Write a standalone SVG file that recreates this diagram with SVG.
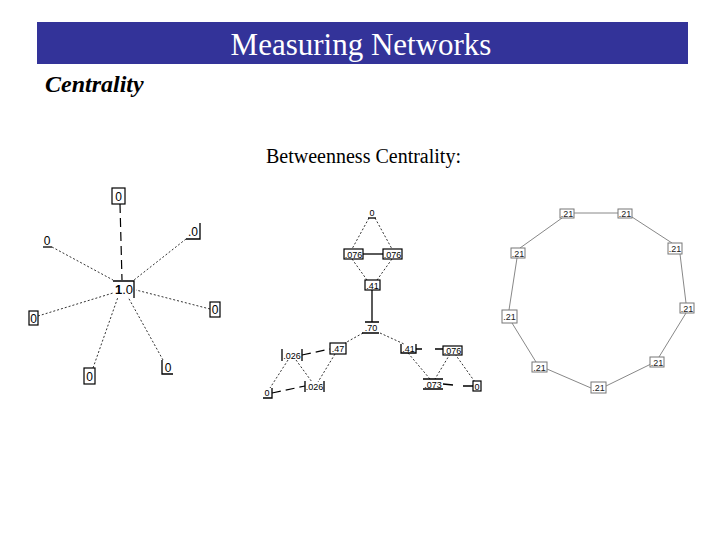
<svg xmlns="http://www.w3.org/2000/svg" width="720" height="540" viewBox="0 0 720 540">
<style>
.t{font-family:"Liberation Sans",Arial,sans-serif;fill:#000}
.s{font-size:12px}
.m{font-size:9px}
.r{font-size:9px;fill:#222}
.box{fill:#fff;stroke:#000;stroke-width:1.2}
.rbox{fill:#fff;stroke:#777;stroke-width:1}
.d{stroke:#333;stroke-width:1;fill:none;stroke-dasharray:2 2}
.dl{stroke:#000;stroke-width:1.2;fill:none;stroke-dasharray:9 5}
.sl{stroke:#000;stroke-width:1.3;fill:none}
.g{stroke:#888;stroke-width:1;fill:none}
</style>
<rect x="37" y="22" width="651" height="42" fill="#333399"/>
<text x="361" y="55" text-anchor="middle" font-family="Liberation Serif,Times New Roman,serif" font-size="31" fill="#fff">Measuring Networks</text>
<text x="45" y="92" font-family="Liberation Serif,Times New Roman,serif" font-size="24" font-style="italic" font-weight="bold">Centrality</text>
<text x="266" y="163" font-family="Liberation Serif,Times New Roman,serif" font-size="20">Betweenness Centrality:</text>

<g id="connectors">
  <path class="dl" d="M120 204 L122 280"/>
  <path class="d" d="M52 247 L113 280"/>
  <path class="d" d="M186 239 L134 280"/>
  <path class="d" d="M210 309 L136 290"/>
  <path class="d" d="M38 316 L113 293"/>
  <path class="d" d="M93 368 L118 297"/>
  <path class="d" d="M163 360 L128 297"/>
  <path class="d" d="M369 218 L352 249"/>
  <path class="d" d="M375 218 L392 249"/>
  <path class="sl" d="M363 254 L383 254"/>
  <path class="d" d="M352 259 L367 280"/>
  <path class="d" d="M392 259 L377 280"/>
  <path class="sl" d="M372 290 L372 322"/>
  <path class="d" d="M363 333 L345 343"/>
  <path class="d" d="M380 333 L404 344"/>
  <path class="sl" d="M416 349 L422 349 M435 349 L443 349"/>
  <path class="d" d="M408 353 L430 379"/>
  <path class="d" d="M450 354 L435 379"/>
  <path class="d" d="M455 354 L475 382"/>
  <path class="sl" d="M443 384 L453 385 M463 386 L473 386"/>
  <path class="dl" d="M302 355 L330 349"/>
  <path class="d" d="M288 360 L270 388"/>
  <path class="d" d="M296 360 L312 382"/>
  <path class="d" d="M335 354 L318 382"/>
  <path class="dl" d="M272 393 L305 386"/>
  <path class="g" d="M574 213 L618 213 M632 217 L672 243 M680 254 L686 303 M686 313 L659 357 M651 364 L606 386 M591 388 L547 369 M536 362 L512 323 M509 310 L517 258 M520 248 L562 218"/>
</g>

<g id="star-center"><path class="sl" d="M113 281 L134 281 L134 298"/><text class="t" font-size="13" x="115" y="294"><tspan font-weight="bold">1</tspan>.0</text></g>
<g id="star-top"><rect class="box" x="112" y="188" width="13" height="16"/><text class="t s" x="118.5" y="200.5" text-anchor="middle">0</text></g>
<g id="star-ul"><path class="sl" d="M43 247 L52 247"/><text class="t s" x="47" y="245" text-anchor="middle">0</text></g>
<g id="star-ur"><path class="sl" d="M186 239 L200 239 L200 223"/><text class="t s" x="193" y="236" text-anchor="middle">.0</text></g>
<g id="star-r"><rect class="box" x="210" y="302" width="10" height="15"/><text class="t s" x="215" y="314" text-anchor="middle">0</text></g>
<g id="star-l"><rect class="box" x="29" y="311" width="9" height="14"/><text class="t s" x="33.5" y="322.5" text-anchor="middle">0</text></g>
<g id="star-bl"><rect class="box" x="84" y="368" width="11" height="16"/><text class="t s" x="89.5" y="381" text-anchor="middle">0</text></g>
<g id="star-br"><path class="sl" d="M162 360 L162 374 L173 374"/><text class="t s" x="168" y="372" text-anchor="middle">0</text></g>

<g id="m-top"><path class="sl" d="M368 218 L376 218"/><text class="t m" x="372" y="216" text-anchor="middle">0</text></g>
<g id="m-l1"><rect class="box" x="344" y="249" width="19" height="10"/><text class="t m" x="353.5" y="257.5" text-anchor="middle">.076</text></g>
<g id="m-r1"><rect class="box" x="383" y="249" width="19" height="10"/><text class="t m" x="392.5" y="257.5" text-anchor="middle">.076</text></g>
<g id="m-41"><rect class="box" x="365" y="280" width="15" height="10"/><text class="t m" x="372.5" y="288.5" text-anchor="middle">.41</text></g>
<g id="m-70"><path class="sl" d="M365 322 L379 322 M362 333 L379 333"/><text class="t m" x="371" y="331" text-anchor="middle">.70</text></g>
<g id="m-47"><rect class="box" x="330" y="343" width="16" height="11"/><text class="t m" x="338" y="352" text-anchor="middle">.47</text></g>
<g id="m-41b"><path class="sl" d="M401 344 L401 353 L416 353 L416 344"/><text class="t m" x="408.5" y="351.5" text-anchor="middle">.41</text></g>
<g id="m-076b"><rect class="box" x="443" y="346" width="19" height="9"/><text class="t m" x="452.5" y="353.5" text-anchor="middle">.076</text></g>
<g id="m-073"><path class="sl" d="M423 379 L443 379 M423 389 L443 389"/><text class="t m" x="433" y="387.5" text-anchor="middle">.073</text></g>
<g id="m-0r"><rect class="box" x="473" y="381" width="8" height="10"/><text class="t m" x="477" y="389.5" text-anchor="middle">0</text></g>
<g id="m-026a"><path class="sl" d="M282 349 L282 361 M302 349 L302 361"/><text class="t m" x="292" y="358.5" text-anchor="middle">.026</text></g>
<g id="m-026b"><path class="sl" d="M305 381 L305 392 M324 381 L324 392"/><text class="t m" x="314.5" y="390" text-anchor="middle">.026</text></g>
<g id="m-0l"><path class="sl" d="M263 398 L272 398 L272 388"/><text class="t m" x="267" y="396" text-anchor="middle">0</text></g>

<g id="r1"><rect class="rbox" x="560" y="209" width="14" height="9"/><text class="t r" x="567" y="216.5" text-anchor="middle">.21</text></g>
<g id="r2"><rect class="rbox" x="618" y="209" width="14" height="9"/><text class="t r" x="625" y="216.5" text-anchor="middle">.21</text></g>
<g id="r3"><rect class="rbox" x="668" y="243" width="14" height="11"/><text class="t r" x="675" y="251.5" text-anchor="middle">.21</text></g>
<g id="r4"><rect class="rbox" x="680" y="303" width="14" height="10"/><text class="t r" x="687" y="311.5" text-anchor="middle">.21</text></g>
<g id="r5"><rect class="rbox" x="650" y="357" width="14" height="10"/><text class="t r" x="657" y="365.5" text-anchor="middle">.21</text></g>
<g id="r6"><rect class="rbox" x="591" y="382" width="15" height="11"/><text class="t r" x="598.5" y="390.5" text-anchor="middle">.21</text></g>
<g id="r7"><rect class="rbox" x="532" y="362" width="15" height="10"/><text class="t r" x="539.5" y="370.5" text-anchor="middle">.21</text></g>
<g id="r8"><rect class="rbox" x="502" y="310" width="15" height="13"/><text class="t r" x="509.5" y="319.5" text-anchor="middle">.21</text></g>
<g id="r9"><rect class="rbox" x="511" y="248" width="14" height="10"/><text class="t r" x="518" y="256.5" text-anchor="middle">.21</text></g>
</svg>
